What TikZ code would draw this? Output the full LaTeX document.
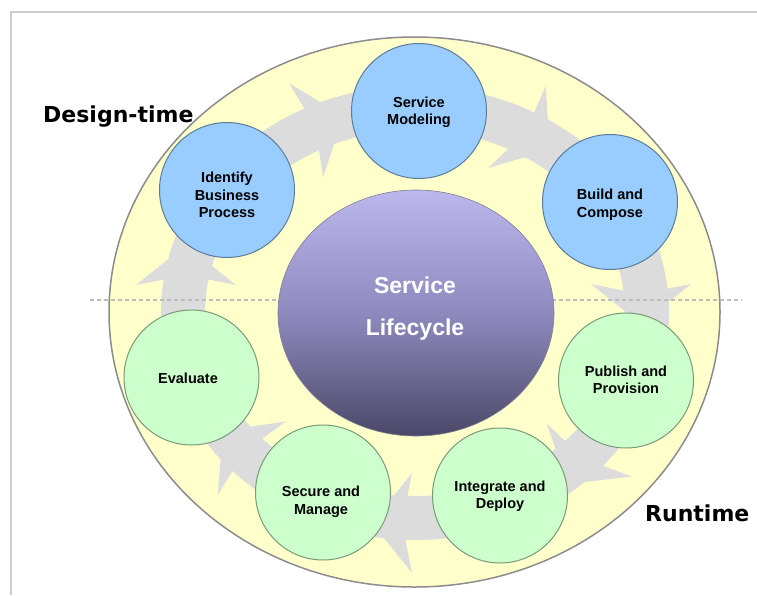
\documentclass[tikz,border=0pt]{standalone}
\usepackage{fontspec}
\setmainfont{Liberation Sans}
\newfontfamily\dvfont{DejaVu Sans}
\usetikzlibrary{shapes.geometric}
\definecolor{ringyellow}{HTML}{FFFFCC}
\definecolor{ringborder}{HTML}{8C8C8C}
\definecolor{bandgray}{HTML}{DCDCDC}
\definecolor{bluefill}{HTML}{99CCFF}
\definecolor{blueline}{HTML}{5C7C9C}
\definecolor{greenfill}{HTML}{CCFFCC}
\definecolor{greenline}{HTML}{7A9A7A}
\definecolor{framegray}{HTML}{CCCCCC}
\definecolor{dashgray}{HTML}{BDBDBD}
\definecolor{coretop}{HTML}{BCB8EE}
\definecolor{coremid}{HTML}{8E8ABE}
\definecolor{corebot}{HTML}{4A4868}
\tikzset{
  stage/.style={circle, minimum size=135pt, inner sep=0pt, line width=1pt},
  design/.style={stage, fill=bluefill, draw=blueline},
  runtime/.style={stage, fill=greenfill, draw=greenline},
  stagetext/.style={align=center, font=\fontsize{14.5}{17.5}\selectfont\bfseries, text=black, inner sep=0pt},
  arrowhead/.style={fill=bandgray, draw=none},
  phase/.style={font=\dvfont\fontsize{22}{26}\selectfont\bfseries, inner sep=0pt, anchor=base west},
}
\begin{document}
\begin{tikzpicture}[x=1pt,y=-1pt]
\useasboundingbox (0,0) rectangle (757,595);
\fill[white] (0,0) rectangle (757,595);
% frame
\coordinate (fbl) at (11,595);
\coordinate (ftl) at (11,12);
\coordinate (ftr) at (757,12);
\draw[framegray, line width=1.5pt] (fbl) -- (ftl) -- (ftr);
% outer ring
\node[ellipse, minimum width=611pt, minimum height=550pt, inner sep=0pt,
      fill=ringyellow, draw=ringborder, line width=1.5pt] (ring) at (414.5,312) {};
% grey band
\draw[bandgray, line width=44pt] (415,313) ellipse [x radius=232, y radius=205];
% arrowheads (clockwise flow)
\fill[arrowhead, shift={(306,130)}, rotate=20]   (0,50) -- (40,0) -- (0,-50) -- (10,0) -- cycle;
\fill[arrowhead, shift={(517,127)}, rotate=-35]  (0,50) -- (40,0) -- (0,-50) -- (10,0) -- cycle;
\fill[arrowhead, shift={(641,284)}, rotate=-90]  (0,50) -- (40,0) -- (0,-50) -- (10,0) -- cycle;
\fill[arrowhead, shift={(589,450)}, rotate=-122] (0,50) -- (40,0) -- (0,-50) -- (10,0) -- cycle;
\fill[arrowhead, shift={(412,523)}, rotate=180]  (0,50) -- (40,0) -- (0,-50) -- (10,0) -- cycle;
\fill[arrowhead, shift={(252,458)}, rotate=137]  (0,50) -- (40,0) -- (0,-50) -- (10,0) -- cycle;
\fill[arrowhead, shift={(186,285)}, rotate=90]   (0,50) -- (40,0) -- (0,-50) -- (10,0) -- cycle;
% divider
\coordinate (dl) at (90,300);
\coordinate (dr) at (742,300);
\draw[dashgray, line width=1.3pt, dash pattern=on 4pt off 3pt] (dl) -- (dr);
% stages
\node[design]  (ident)  at (227,190)     {};
\node[design]  (model)  at (419,111)     {};
\node[design]  (build)  at (610,202)     {};
\node[runtime] (publ)   at (626,380.5)   {};
\node[runtime] (integ)  at (500,495.5)   {};
\node[runtime] (secure) at (323,492.5)   {};
\node[runtime] (eval)   at (191.5,377.5) {};
\node[stagetext] (ident-t)  at (227,195)   {Identify\\Business\\Process};
\node[stagetext] (model-t)  at (419,112.5) {Service\\Modeling};
\node[stagetext] (build-t)  at (610,204.5) {Build and\\Compose};
\node[stagetext] (publ-t)   at (626,380)   {Publish and\\Provision};
\node[stagetext] (integ-t)  at (500,496)   {Integrate and\\Deploy};
\node[stagetext] (secure-t) at (321,502)   {Secure and\\Manage};
\node[stagetext] (eval-t)   at (188,378)   {Evaluate};
% core
\node[ellipse, minimum width=276pt, minimum height=246pt, inner sep=0pt,
      top color=coretop, bottom color=corebot, middle color=coremid,
      draw=corebot!70, line width=0.6pt] (core) at (416,313) {};
\node[align=center, text=white, inner sep=0pt,
      font=\fontsize{23}{42}\selectfont\bfseries] (core-t) at (415,309) {Service\\Lifecycle};
% phase labels
\node[phase] (design-l) at (43,122) {Design-time};
\node[phase] (run-l) at (645,521) {Runtime};
\end{tikzpicture}
\end{document}
